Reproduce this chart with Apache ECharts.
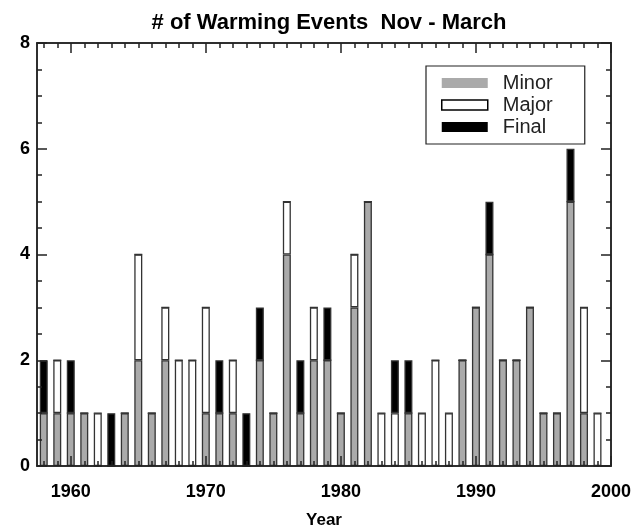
<!DOCTYPE html>
<html><head><meta charset="utf-8">
<script src="https://cdn.jsdelivr.net/npm/echarts@6/dist/echarts.min.js"></script>
<style>html,body{margin:0;padding:0;background:#fff}#c{width:635px;height:528px}</style>
</head><body><div id="c"></div>
<script>
const years = [1958,1959,1960,1961,1962,1963,1964,1965,1966,1967,1968,1969,1970,1971,1972,1973,1974,1975,1976,1977,1978,1979,1980,1981,1982,1983,1984,1985,1986,1987,1988,1989,1990,1991,1992,1993,1994,1995,1996,1997,1998,1999];
const minorEvents = [1,1,1,1,0,0,1,2,1,2,0,0,1,1,1,0,2,1,4,1,2,2,1,3,5,0,0,1,0,0,0,2,3,4,2,2,3,1,1,5,1,0];
const majorEvents = [0,1,0,0,1,0,0,2,0,1,2,2,2,0,1,0,0,0,1,0,1,0,0,1,0,1,1,0,1,2,1,0,0,0,0,0,0,0,0,0,2,1];
const finalEvents = [1,0,1,0,0,1,0,0,0,0,0,0,0,1,0,1,1,0,0,1,0,1,0,0,0,0,1,1,0,0,0,0,0,1,0,0,0,0,0,1,0,0];
const xLabelTicks = [1960,1970,1980,1990,2000];
const xMinorTicks = years;
const yLabelTicks = [0,2,4,6,8];
const yMinorTicks = [0.5,1,1.5,2.5,3,3.5,4.5,5,5.5,6.5,7,7.5];
const seriesNames = ['Minor','Major','Final'];

const X_MIN = 1957.5, X_MAX = 2000, Y_MIN = 0, Y_MAX = 8;
const GL = 37, GR = 24, GT = 43, GB = 62;
const W = 635 - GL - GR;
// bar grid: one category band per year, from X_MIN to last year + 0.5
const barRight = 635 - (GL + W * ((years[years.length-1] + 0.5 - X_MIN) / (X_MAX - X_MIN)));
const lineCol = '#222';
const lblFont = {fontFamily:'Liberation Sans', fontWeight:'bold', fontSize:18, color:'#000'};

function xAx(pos, ticks, len, opts) {
  return Object.assign({
    gridIndex:0, type:'value', position:pos, min:X_MIN, max:X_MAX, z:5,
    axisLine:{show:true, onZero:false, lineStyle:{color:lineCol, width:1.5}},
    axisTick:{show:true, inside:true, length:len, customValues:ticks, lineStyle:{color:lineCol, width:1.5}},
    axisLabel:{show:false}, splitLine:{show:false}
  }, opts || {});
}
function yAx(pos, ticks, len, opts) {
  return Object.assign({
    gridIndex:0, type:'value', position:pos, min:Y_MIN, max:Y_MAX, z:5,
    axisLine:{show:true, onZero:false, lineStyle:{color:lineCol, width:1.5}},
    axisTick:{show:true, inside:true, length:len, customValues:ticks, lineStyle:{color:lineCol, width:1.5}},
    axisLabel:{show:false}, splitLine:{show:false}
  }, opts || {});
}

const chart = echarts.init(document.getElementById('c'), null, {renderer:'canvas'});
const fills = ['#aaaaaa','#ffffff','#000000'];
const dataSets = [minorEvents, majorEvents, finalEvents];

chart.setOption({
  animation:false,
  backgroundColor:'#fff',
  title:{text:'# of Warming Events  Nov - March', left:324, textAlign:'center', top:7,
    textStyle:{fontFamily:'Liberation Sans', fontWeight:'bold', fontSize:22, color:'#000'}},
  grid:[
    {left:GL, right:GR, top:GT, bottom:GB, containLabel:false, outerBoundsMode:'none'},
    {left:GL, right:barRight, top:GT, bottom:GB, containLabel:false, outerBoundsMode:'none'}
  ],
  legend:{
    orient:'vertical', left:426, top:66,
    padding:[6,32,6,15], itemWidth:46, itemHeight:10, itemGap:0,
    borderColor:'#222', borderWidth:1.2, backgroundColor:'#fff',
    textStyle:{fontFamily:'Liberation Sans', fontSize:20, color:'#222', lineHeight:22, padding:[0,0,0,10]},
    selectedMode:false,
    data:[
      {name:'Minor', icon:'rect', itemStyle:{color:'#aaaaaa', borderWidth:0}},
      {name:'Major', icon:'rect', itemStyle:{color:'#ffffff', borderColor:'#000', borderWidth:1.5}},
      {name:'Final', icon:'rect', itemStyle:{color:'#000000', borderWidth:0}}
    ]
  },
  xAxis:[
    xAx('bottom', xLabelTicks, 10, {
      name:'Year', nameLocation:'middle', nameGap:46,
      nameTextStyle:Object.assign({}, lblFont, {fontSize:17}),
      axisLabel:Object.assign({show:true, margin:17, customValues:xLabelTicks, formatter:v => String(v)}, lblFont)
    }),
    xAx('bottom', xMinorTicks, 5),
    xAx('top', xLabelTicks, 10),
    xAx('top', xMinorTicks, 5),
    {gridIndex:1, type:'category', data:years.map(String), boundaryGap:true, show:false}
  ],
  yAxis:[
    yAx('left', yLabelTicks, 10, {
      axisLabel:Object.assign({show:true, margin:7, customValues:yLabelTicks}, lblFont)
    }),
    yAx('left', yMinorTicks, 5),
    yAx('right', yLabelTicks, 10),
    yAx('right', yMinorTicks, 5),
    {gridIndex:1, type:'value', min:Y_MIN, max:Y_MAX, show:false}
  ],
  series: seriesNames.map((nm, k) => ({
    name:nm, type:'bar', stack:'events', xAxisIndex:4, yAxisIndex:4,
    barWidth:8, z:2,
    itemStyle:{color:fills[k], borderColor:'#333', borderWidth:1.3},
    data: dataSets[k]
  }))
});
</script>
</body></html>
